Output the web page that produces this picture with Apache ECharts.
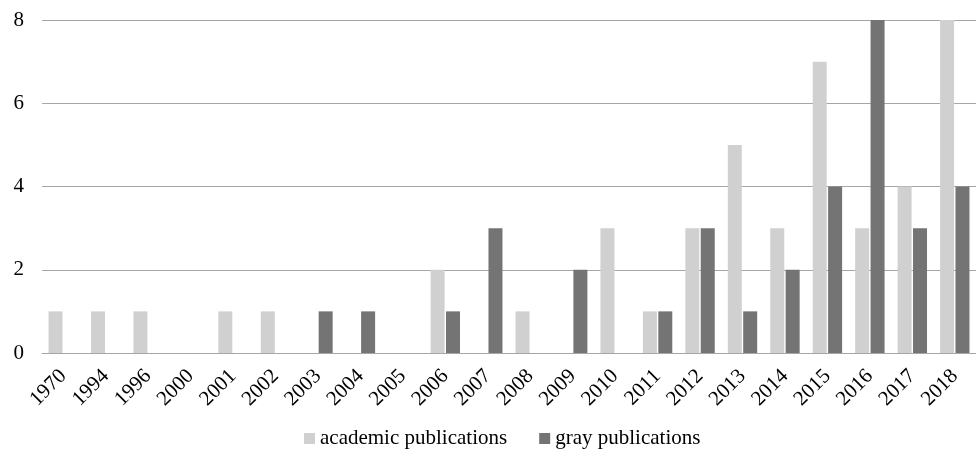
<!DOCTYPE html>
<html><head><meta charset="utf-8">
<script src="https://cdn.jsdelivr.net/npm/echarts@6/dist/echarts.min.js"></script>
<style>html,body{margin:0;padding:0;background:#fff}#c{width:976px;height:458px}</style>
</head><body><div id="c"></div>
<script>
var categories = ['1970','1994','1996','2000','2001','2002','2003','2004','2005','2006','2007','2008','2009','2010','2011','2012','2013','2014','2015','2016','2017','2018'];
var academic = [1,1,1,0,1,1,0,0,0,2,0,1,0,3,1,3,5,3,7,3,4,8];
var gray = [0,0,0,0,0,0,1,1,0,1,3,0,2,0,1,3,1,2,4,8,3,4];
var yTicks = [0,2,4,6,8];
var font = '"Liberation Serif", "Times New Roman", serif';
var chart = echarts.init(document.getElementById('c'));
chart.setOption({
  animation: false,
  textStyle: {fontFamily: font},
  grid: {left: 42, right: 0, top: 20, bottom: 105, containLabel: false},
  legend: {
    bottom: 4, left: 299, itemWidth: 11, itemHeight: 11, itemGap: 32,
    icon: 'rect',
    textStyle: {fontFamily: font, fontSize: 21, color: '#000'},
    data: ['academic publications', 'gray publications']
  },
  xAxis: {
    type: 'category', data: categories,
    axisLine: {lineStyle: {color: '#a6a6a6', width: 1}},
    axisTick: {show: false},
    axisLabel: {rotate: 45, interval: 0, fontFamily: font, fontSize: 21, color: '#000', margin: 20}
  },
  yAxis: {
    type: 'value', min: yTicks[0], max: yTicks[yTicks.length-1], interval: 2,
    axisLine: {show: false}, axisTick: {show: false},
    axisLabel: {fontFamily: font, fontSize: 21, color: '#000', margin: 18},
    splitLine: {lineStyle: {color: '#a6a6a6', width: 1}}
  },
  series: [
    {name: 'academic publications', type: 'bar', data: academic, barWidth: 14, barGap: '10%',
     itemStyle: {color: '#d0d0d0'}},
    {name: 'gray publications', type: 'bar', data: gray, barWidth: 14,
     itemStyle: {color: '#747474'}}
  ]
});
</script></body></html>
